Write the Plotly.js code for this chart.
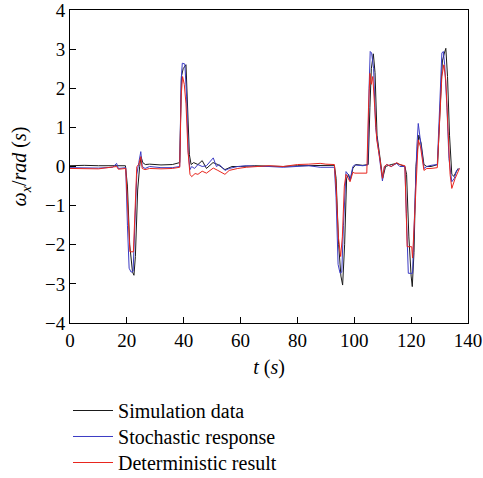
<!DOCTYPE html>
<html>
<head>
<meta charset="utf-8">
<script src="https://cdn.plot.ly/plotly-3.0.1.min.js"></script>
<style>html,body{margin:0;padding:0;background:#fff;}#chart{width:483px;height:478px;}</style>
</head>
<body>
<div id="chart"></div>
<script>
// Simulation data
const simT = [0,5,10,15,19.5,20.2,21,22,22.5,23,23.8,24.5,25,25.6,26.5,28,32,36,38.6,39.2,39.8,40.8,41.3,42,42.6,43.5,45,46.5,48,50.3,52,54.5,57,60,65,70,75,80,85,88,90,93,93.6,94.5,95.3,95.9,96.6,97.3,98,98.6,99.5,100.5,103,104.9,105.5,106,106.7,107.3,108,109,110,111,113,115,117.8,118.4,119.2,120,120.4,121,121.7,122.7,123.5,124.5,125.5,127,129.3,130.2,131,131.7,132.2,132.8,133.5,134.3,135,136.5];
const simV = [0.02,0.03,0.02,0.03,0.02,-0.5,-2.0,-2.7,-2.78,-2.3,-0.6,0.0,0.25,0.1,0.05,0.06,0.04,0.05,0.1,2.3,2.5,2.6,1.8,0.3,0.05,0.1,0.05,0.15,-0.05,0.1,0.05,-0.08,0.0,0.0,0.02,0.01,0.0,0.02,0.02,0.02,0.02,0.03,-0.3,-2.0,-2.8,-3.03,-2.0,-0.3,-0.2,-0.35,-0.05,0.05,0.03,0.05,1.5,2.5,2.88,2.4,0.8,0.2,-0.3,0.0,0.05,0.08,0.0,-0.2,-1.8,-2.8,-3.07,-2.2,0.0,0.8,0.6,0.05,0.0,0.0,0.05,1.5,2.7,2.9,3.02,2.3,0.8,-0.2,-0.25,-0.05];
// Stochastic response
const stoT = [0,5,10,15,16.4,17,19.6,20.2,20.8,21.5,22.2,22.8,23.5,24.2,24.9,25.4,26.4,28,32,36,38.6,39.1,39.5,40.4,41,41.6,42.2,42.8,43.8,45,46.5,48,50.4,51.5,52.5,54.5,56,59,62,66,70,75,80,84,88,93,93.6,94.3,95,95.6,96.2,97.1,97.8,98.5,99.5,100.2,103,104.7,105.2,105.6,106.1,106.8,107.5,108.3,109,109.9,110.6,111.4,113,114.9,116,117.8,118.3,119,120.5,121.2,122,122.5,123.3,124.5,125.5,127,129.2,130.2,130.8,131.3,131.8,132.6,133.3,134.3,135.2,136,137];
const stoV = [-0.03,-0.03,-0.04,-0.02,0.08,-0.05,-0.03,-1.5,-2.6,-2.7,-2.68,-1.5,-0.2,0.1,0.38,0.0,-0.05,0.0,-0.03,-0.03,0.0,2.2,2.64,2.62,1.8,0.35,-0.08,0.0,-0.05,0.05,0.0,0.02,0.22,0.0,0.05,-0.1,-0.05,0.0,0.02,0.0,0.0,-0.02,0.0,0.02,-0.02,-0.02,-0.8,-2.5,-2.73,-2.7,-1.5,-0.13,-0.2,-0.35,0.0,0.04,0.02,0.04,2.0,2.94,2.9,2.5,1.0,0.5,0.2,-0.37,0.0,0.05,0.0,0.08,0.0,0.0,-1.2,-2.73,-2.73,-1.0,0.5,1.1,0.6,-0.05,0.0,0.03,0.05,2.0,2.9,2.94,2.6,1.5,0.2,-0.39,-0.3,-0.1,-0.05];
// Deterministic result
const detT = [0,5,10,16.4,17,19.6,20.3,21.1,22.3,22.9,23.5,24.2,24.9,25.4,26.4,28,32,36,38.6,39.1,39.6,40.2,40.8,41.5,42.2,42.8,44,45,46.5,48,50.4,52,54.5,56,59,62,66,70,75,80,84,88,90,93,93.6,94.4,95.2,95.8,96.5,97.1,98.5,99.5,100.2,104.4,105,105.5,106,106.5,107.2,107.9,109,109.9,110.6,111.4,113,114.9,116,117.8,118.4,118.6,120.2,120.5,121.2,122,122.5,123.3,124.5,125.5,127,129.2,130,130.8,131.5,132.2,133,133.7,134.3,135.5,137];
const detV = [-0.05,-0.05,-0.06,0.0,-0.07,-0.05,-1.2,-2.18,-2.18,-1.2,0.0,0.05,0.25,-0.05,-0.08,-0.05,-0.06,-0.05,-0.02,1.8,2.3,2.1,1.6,0.4,-0.2,-0.26,-0.18,-0.2,-0.12,-0.17,-0.04,-0.1,-0.2,-0.1,-0.05,-0.02,0.0,0.02,0.0,0.05,0.06,0.08,0.06,0.05,-0.5,-1.8,-2.3,-1.8,-0.5,-0.2,-0.39,-0.15,-0.17,-0.17,1.5,2.38,2.1,2.3,1.5,0.68,0.2,-0.3,0.0,0.05,0.0,0.1,0.05,0.02,-1.5,-2.05,-2.05,-2.34,-1.3,0.2,0.68,0.5,-0.1,-0.05,-0.05,-0.03,1.2,2.3,2.6,2.2,0.9,-0.2,-0.56,-0.3,-0.05];

const seriesNames = ['Simulation data','Stochastic response','Deterministic result'];
const xTicks = [0,20,40,60,80,100,120,140];
const yTicks = [-4,-3,-2,-1,0,1,2,3,4];

const serif = 'Liberation Serif';
const traces = [
  {x: simT, y: simV, name: seriesNames[0], legend: 'legend', type: 'scatter', mode: 'lines', line: {color: '#1a1a1a', width: 1}},
  {x: stoT, y: stoV, name: seriesNames[1], legend: 'legend2', type: 'scatter', mode: 'lines', line: {color: '#3b3bc4', width: 1}},
  {x: detT, y: detV, name: seriesNames[2], legend: 'legend3', type: 'scatter', mode: 'lines', line: {color: '#e8261e', width: 1}}
];
const axisCommon = {
  showgrid: false, zeroline: false, showline: true, linecolor: '#000', linewidth: 1, mirror: true,
  ticks: 'inside', ticklen: 6, tickcolor: '#000', tickwidth: 1, ticklabeloverflow: 'allow',
  tickfont: {family: serif, size: 19, color: '#000'}
};
function legendAt(y) {
  return {
    x: -0.005, xanchor: 'left', y: y, yanchor: 'top',
    bgcolor: 'rgba(0,0,0,0)', borderwidth: 0,
    font: {family: serif, size: 20, color: '#000'},
    itemwidth: 40
  };
}
const layout = {
  width: 483, height: 478,
  margin: {l: 70, r: 15, t: 10, b: 155, autoexpand: false},
  paper_bgcolor: '#fff', plot_bgcolor: '#fff',
  font: {family: serif, size: 19, color: '#000'},
  showlegend: true,
  xaxis: Object.assign({}, axisCommon, {
    range: [0, 140], tickvals: xTicks,
    title: {text: '<i>t</i> (<i>s</i>)', font: {family: serif, size: 20, color: '#000'}, standoff: 10}
  }),
  yaxis: Object.assign({}, axisCommon, {
    range: [-4, 4], tickvals: yTicks,
    title: {text: '<i>ω<sub>x</sub></i>/<i>rad</i> (<i>s</i>)', font: {family: serif, size: 20, color: '#000'}, standoff: 12}
  }),
  legend: legendAt(-0.2173),
  legend2: legendAt(-0.3003),
  legend3: legendAt(-0.3834)
};
Plotly.newPlot('chart', traces, layout, {displayModeBar: false, staticPlot: true});
</script>
</body>
</html>
